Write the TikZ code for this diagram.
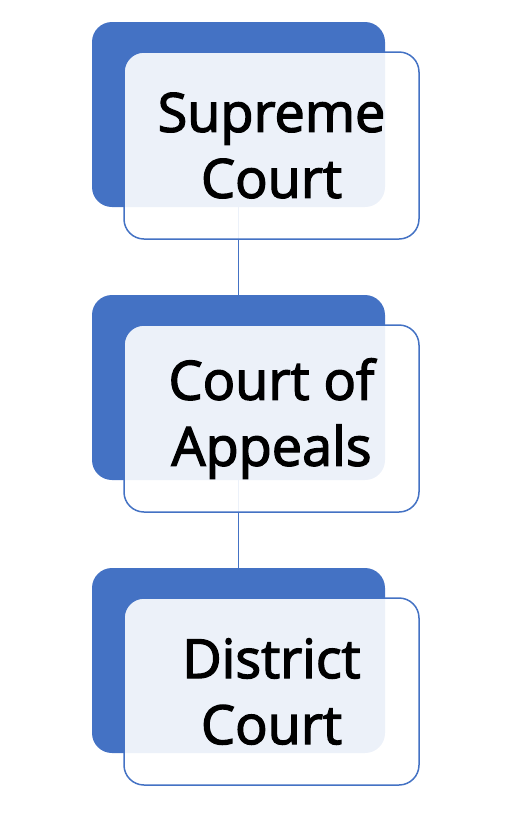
\documentclass[tikz,border=0pt]{standalone}
\usepackage{fontspec}
\setmainfont[FakeBold=2.5]{Open Sans}
\definecolor{courtblue}{RGB}{68,114,196}

\begin{document}
\begin{tikzpicture}[x=1pt,y=-1pt,
  back/.style={shape=rectangle,fill=courtblue,rounded corners=20pt,minimum width=293pt,minimum height=185pt,inner sep=0},
  front/.style={shape=rectangle,draw=courtblue,line width=1.5pt,fill=white,fill opacity=0.9,text opacity=1,rounded corners=20pt,minimum width=295pt,minimum height=187pt,inner sep=0,align=center,font=\fontsize{54}{66}\selectfont}]
\useasboundingbox (0,0) rectangle (517,815);
\node[back] (supback) at (238.5,114.5) {};
\node[back] (appback) at (238.5,387.5) {};
\node[back] (disback) at (238.5,660.5) {};
\draw[courtblue,line width=1.6pt] (supback.south)--(appback.north);
\draw[courtblue,line width=1.6pt] (appback.south)--(disback.north);
\node[front] (sup) at (271.5,145.5) {Supreme\\Court};
\node[front] (app) at (271.5,418.5) {Court of\\Appeals};
\node[front] (dis) at (271.5,691.5) {District\\Court};
\end{tikzpicture}
\end{document}
